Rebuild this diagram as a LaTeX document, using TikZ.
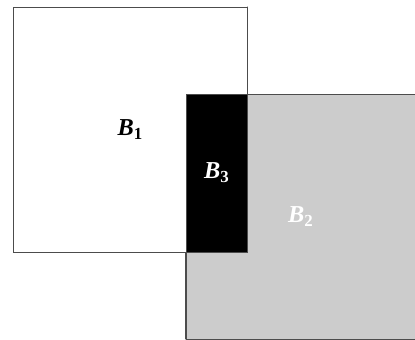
\documentclass[tikz,border=0pt]{standalone}
\usepackage{fontspec}
\setmainfont{Liberation Serif}
\usepackage{xcolor}
\usepackage{tikz}

% bold italic letter with a lowered bold digit
\newcommand{\blk}[1]{\textbf{\textit{B}}\raisebox{-0.35ex}{\large\bfseries #1}}

\begin{document}
\begin{tikzpicture}[
  x=0.025cm, y=0.025cm,
  % overlapping blocks
  box/.style={rectangle, draw=black!70, line width=0.6pt, fill=#1,
              inner sep=0pt, font=\LARGE},
]
\useasboundingbox (0,0) rectangle (415,340);

%% ── B1: white block, upper left ─────────────────────────────
\node[box=white, minimum width=5.85cm, minimum height=6.125cm] (b1)
      at (130, 210.5) {\blk{1}};

%% ── B2: grey block, lower right ─────────────────────────────
\node[box=black!20, minimum width=5.725cm, minimum height=6.125cm,
      text=white] (b2)
      at (300.5, 123.5) {\blk{2}};

%% ── B3: overlap of the two ──────────────────────────────────
\node[box=black, minimum width=1.525cm, minimum height=3.95cm,
      text=white] (b3)
      at (216.5, 167) {\blk{3}};
\draw[black!70, line width=0.6pt] (b3.north east) -- (b1.north east);
\draw[black!70, line width=0.6pt] (b3.south west) -- (b2.south west);

\end{tikzpicture}
\end{document}
